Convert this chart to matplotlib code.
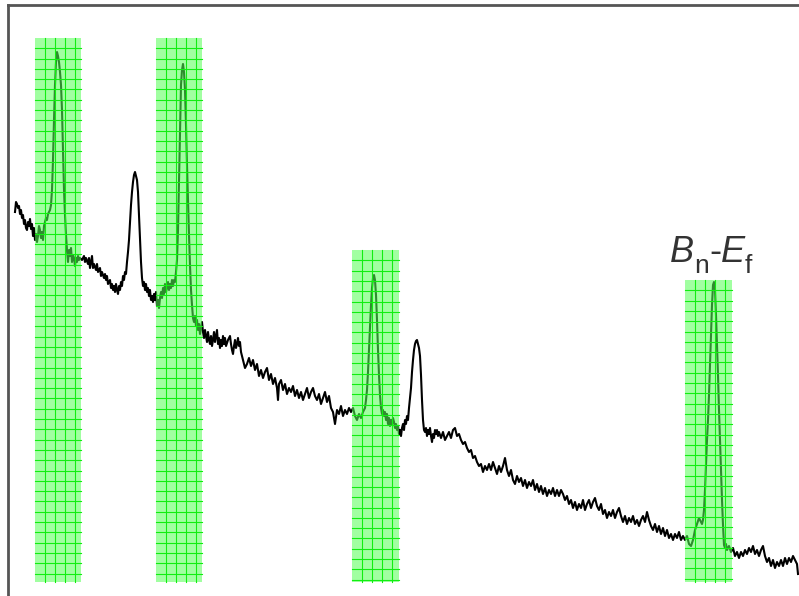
import matplotlib.pyplot as plt
import numpy as np

# spectrum trace: channel vs counts
channel = [
    15, 16, 17, 18, 19, 20, 21, 22, 23, 24, 25, 26, 27, 28, 29, 30, 31, 32, 33, 34,
    35, 36, 37, 38, 39, 40, 41, 42, 43, 44, 45, 46, 47, 48, 49, 50, 51, 52, 53, 54,
    55, 56, 57, 58, 59, 60, 61, 62, 63, 64, 65, 66, 67, 68, 69, 70, 71, 72, 73, 74,
    75, 76, 77, 78, 79, 80, 82, 84, 85, 86, 88, 89, 90, 91, 92, 93, 94, 96, 97, 98,
    100, 101, 102, 104, 105, 106, 107, 108, 110, 111, 112, 113, 114, 115, 116, 117, 118, 119, 120, 121,
    122, 123, 124, 125, 126, 127, 128, 129, 130, 131, 132, 133, 134, 135, 136, 137, 138, 139, 140, 141,
    142, 143, 144, 145, 146, 147, 148, 149, 150, 151, 152, 153, 154, 155, 156, 157, 158, 159, 160, 161,
    162, 163, 164, 165, 166, 167, 168, 169, 170, 171, 172, 173, 174, 175, 176, 177, 178, 179, 180, 181,
    182, 183, 184, 185, 186, 187, 188, 189, 190, 191, 192, 193, 194, 195, 196, 197, 198, 199, 200, 201,
    202, 203, 204, 205, 206, 207, 208, 209, 210, 211, 212, 213, 214, 215, 216, 217, 218, 219, 220, 221,
    222, 223, 224, 225, 226, 228, 230, 231, 232, 233, 234, 235, 236, 237, 238, 239, 240, 241, 243, 245,
    247, 249, 251, 253, 255, 257, 259, 261, 263, 265, 267, 269, 271, 273, 275, 277, 278, 279, 281, 283,
    285, 287, 289, 291, 293, 295, 297, 299, 301, 303, 305, 307, 309, 311, 313, 315, 317, 319, 321, 323,
    325, 327, 329, 331, 333, 335, 337, 339, 341, 343, 345, 347, 349, 351, 353, 355, 357, 359, 361, 363,
    365, 366, 367, 368, 369, 370, 371, 372, 373, 374, 375, 376, 377, 378, 379, 380, 381, 382, 383, 384,
    385, 386, 387, 388, 389, 390, 391, 392, 393, 394, 395, 396, 397, 398, 399, 400, 401, 402, 403, 404,
    405, 406, 407, 408, 409, 410, 411, 412, 413, 414, 415, 416, 417, 418, 419, 420, 421, 422, 423, 424,
    425, 426, 427, 428, 429, 430, 431, 432, 433, 434, 435, 436, 437, 438, 439, 441, 443, 445, 447, 449,
    451, 453, 455, 457, 459, 461, 463, 465, 467, 469, 471, 473, 475, 477, 479, 481, 483, 485, 487, 489,
    491, 493, 495, 497, 499, 501, 503, 505, 507, 509, 511, 513, 515, 517, 519, 521, 523, 525, 527, 529,
    531, 533, 535, 537, 539, 541, 543, 545, 547, 549, 551, 553, 555, 557, 559, 561, 563, 565, 567, 569,
    571, 573, 575, 577, 579, 581, 583, 585, 587, 589, 591, 593, 595, 597, 599, 601, 603, 605, 607, 609,
    611, 613, 615, 617, 619, 621, 623, 625, 627, 629, 631, 633, 635, 637, 639, 641, 643, 645, 647, 649,
    651, 653, 655, 657, 659, 661, 663, 665, 667, 669, 671, 673, 675, 677, 679, 681, 683, 685, 687, 689,
    691, 693, 695, 697, 699, 700, 701, 702, 703, 704, 705, 706, 707, 708, 709, 710, 711, 712, 713, 714,
    715, 716, 717, 718, 719, 720, 721, 722, 723, 724, 725, 726, 727, 729, 731, 733, 735, 737, 739, 741,
    743, 745, 747, 749, 751, 753, 755, 757, 759, 761, 763, 765, 767, 769, 771, 773, 775, 777, 779, 781,
    783, 785, 787, 789, 791, 793, 795, 797, 798,
]
counts = [
    388, 398, 396, 392, 394, 386, 390, 382, 385, 376, 380, 372, 370, 378, 374, 381, 371, 376, 364, 372,
    360, 366, 358, 364, 374, 370, 362, 368, 360, 374, 378, 382, 380, 386, 388, 390, 395, 410, 440, 480,
    515, 538, 548, 544, 538, 528, 515, 490, 450, 410, 385, 365, 350, 338, 350, 344, 352, 338, 345, 342,
    334, 342, 338, 344, 340, 342, 340, 344, 338, 342, 336, 342, 332, 338, 344, 332, 336, 330, 336, 328,
    332, 324, 328, 322, 326, 320, 324, 316, 320, 312, 316, 310, 314, 308, 316, 310, 306, 314, 310, 318,
    314, 324, 320, 328, 326, 338, 348, 360, 378, 395, 408, 418, 425, 428, 424, 420, 408, 385, 360, 338,
    322, 314, 318, 310, 316, 308, 312, 304, 310, 300, 304, 298, 306, 300, 308, 294, 300, 292, 302, 308,
    302, 312, 306, 316, 308, 312, 318, 310, 316, 312, 320, 314, 320, 318, 328, 340, 370, 420, 470, 515,
    530, 536, 528, 510, 475, 435, 400, 365, 335, 310, 295, 282, 278, 284, 274, 280, 270, 276, 266, 272,
    278, 268, 262, 270, 264, 258, 268, 260, 256, 264, 254, 260, 268, 258, 264, 270, 256, 262, 252, 260,
    254, 264, 256, 262, 254, 260, 264, 256, 250, 246, 254, 260, 252, 256, 262, 254, 258, 248, 240, 232,
    236, 242, 234, 240, 230, 236, 224, 230, 222, 228, 232, 220, 226, 216, 222, 212, 200, 216, 220, 210,
    216, 206, 212, 208, 214, 204, 210, 202, 208, 200, 206, 212, 202, 208, 212, 204, 200, 206, 196, 202,
    208, 198, 204, 192, 188, 176, 190, 186, 194, 184, 190, 186, 192, 188, 192, 184, 180, 186, 182, 188,
    192, 200, 210, 228, 250, 270, 295, 312, 322, 325, 320, 305, 280, 250, 225, 205, 192, 186, 190, 184,
    188, 180, 186, 176, 182, 174, 180, 176, 182, 178, 172, 176, 170, 174, 166, 170, 164, 172, 176, 170,
    180, 176, 184, 180, 192, 202, 212, 228, 240, 250, 256, 259, 260, 256, 252, 244, 225, 200, 180, 170,
    168, 172, 164, 170, 166, 172, 164, 158, 166, 162, 170, 166, 170, 164, 168, 162, 168, 160, 164, 168,
    162, 170, 172, 164, 166, 160, 156, 158, 152, 148, 150, 142, 144, 138, 134, 136, 128, 134, 130, 136,
    130, 138, 132, 126, 134, 128, 134, 142, 130, 124, 130, 120, 116, 124, 118, 122, 114, 120, 112, 118,
    114, 120, 110, 116, 108, 114, 106, 112, 104, 110, 106, 112, 104, 110, 104, 110, 106, 100, 104, 96,
    100, 92, 98, 90, 96, 92, 100, 90, 96, 100, 92, 98, 102, 94, 90, 96, 86, 90, 82, 88,
    84, 90, 82, 88, 92, 84, 78, 84, 76, 82, 78, 84, 76, 80, 74, 80, 84, 78, 88, 80,
    74, 70, 76, 68, 74, 66, 72, 64, 70, 62, 66, 60, 66, 62, 68, 60, 64, 60, 64, 56,
    54, 60, 70, 76, 82, 80, 78, 76, 80, 90, 110, 135, 160, 180, 205, 235, 265, 295, 315, 318,
    310, 285, 255, 225, 190, 160, 130, 100, 75, 55, 52, 56, 50, 54, 48, 52, 44, 48, 42, 48,
    44, 50, 46, 52, 48, 54, 46, 50, 44, 50, 54, 44, 38, 42, 34, 40, 32, 38, 34, 40,
    34, 42, 36, 42, 38, 44, 40, 36, 26,
]

# highlighted peak windows
window_start = [35, 156, 352, 685]
window_end = [81, 202, 399, 732]
window_top = [562, 562, 350, 320]
window_floor = 18

fig = plt.figure(figsize=(7.99, 5.96), dpi=100)
ax = fig.add_axes([8 / 799, -9 / 596, 800 / 799, 600 / 596])
ax.set_xlim(8, 808)
ax.set_ylim(-5, 595)

ax.plot(channel, counts, color='black', lw=1.5, zorder=2)

for x0, x1, top in zip(window_start, window_end, window_top):
    ax.fill_between([x0, x1], window_floor, top, color='#55ff55', alpha=0.55,
                    lw=0, zorder=3)
    for gx in np.arange(x0 + 10, x1, 10):
        ax.plot([gx, gx], [window_floor, top], color='#11ee11', lw=0.8, zorder=4)
    for gy in np.arange(top - 10.3, window_floor, -10.3):
        ax.plot([x0, x1], [gy, gy], color='#11ee11', lw=0.8, zorder=4)

# peak label B_n-E_f with smaller, lowered subscripts
fam = ['Liberation Sans', 'DejaVu Sans']
big = dict(fontsize=26, family=fam, color='#333333', va='baseline')
small = dict(fontsize=19, family=fam, color='#333333', va='baseline')
ax.text(670, 338, 'B', style='italic', **big)
ax.text(694, 327, 'n', **small)
ax.text(709, 338, '-', **big)
ax.text(721, 338, 'E', style='italic', **big)
ax.text(745, 327, 'f', **small)

ax.set_xticks([])
ax.set_yticks([])
for side in ['right', 'bottom']:
    ax.spines[side].set_visible(False)
for side in ['left', 'top']:
    ax.spines[side].set_color('#555555')
    ax.spines[side].set_linewidth(2)

fig.savefig('out.png', dpi=100)
